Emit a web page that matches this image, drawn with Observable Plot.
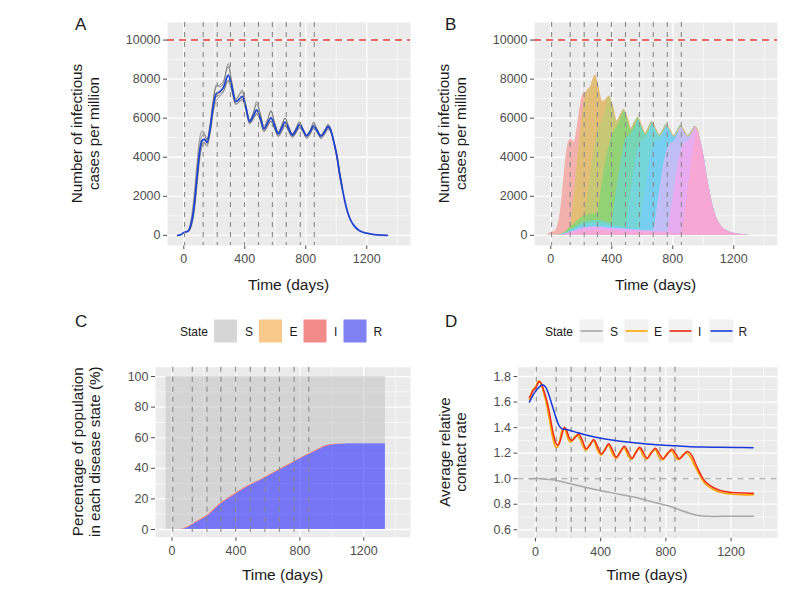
<!DOCTYPE html>
<html><head><meta charset="utf-8">
<script src="https://cdn.jsdelivr.net/npm/d3@7"></script>
<script src="https://cdn.jsdelivr.net/npm/@observablehq/plot@0.6"></script>
<style>
body{margin:0;background:#fff;}
#fig{position:relative;width:804px;height:594px;overflow:hidden;font-family:"Liberation Sans",Arial,Helvetica,sans-serif;}
</style></head><body><div id="fig"></div>
<script>
// ---------- shared ----------
const days = [5, 127, 219, 306, 398, 490, 581, 672, 764, 856];
const xMajor = [0, 400, 800, 1200];
const xMinor = [200, 600, 1000, 1400];

// ---------- A & B: infectious cases per million (mean of simulations) ----------
const tTotal = [-40,-20,0,15,30,45,60,75,90,105,120,135,152,172,192,212,236,260,292,314,340,362,384,404,432,456,478,502,526,550,572,596,620,642,664,688,712,736,758,782,806,829,851,875,899,923,946,966,985,1005,1020,1038,1055,1071,1090,1115,1150,1200,1250,1300,1335];
const vTotal = [0,30,140,180,220,500,1050,2050,3300,4350,4850,4920,4760,5450,6550,7250,7350,7580,8200,7650,6850,6960,7120,6650,5820,6120,6420,6000,5450,5760,6020,5600,5200,5500,5800,5450,5130,5380,5670,5400,5090,5320,5600,5350,5080,5300,5560,5330,4750,4020,3250,2480,1800,1280,850,510,250,110,40,10,0];
const threshold = 10000;

// individual simulations (grey lines)
const tSim = [30,45,60,75,90,105,120,135,152,172,192,212,236,260,292,314,340,362,384,404,432,456,478,502,526,550,572,596,620,642,664,688,712,736,758,782,806,829,851,875,899,923,946,966,985,1005,1020,1038];
const sim1 = [220,700,1500,2700,4000,5000,5350,5250,4900,5700,6900,7600,7700,7900,8650,7900,7000,7150,7350,6800,5900,6300,6700,6200,5600,5950,6350,5800,5300,5650,6000,5550,5200,5500,5800,5450,5150,5400,5700,5400,5150,5400,5650,5350,4700,3900,3100,2350];
const sim2 = [200,350,800,1600,2800,3900,4550,4750,4650,5200,6200,6900,7100,7350,7950,7500,6750,6850,6950,6550,5750,5950,6200,5900,5350,5600,5850,5450,5100,5350,5650,5350,5050,5250,5550,5300,5000,5200,5500,5300,5000,5200,5450,5300,4800,4150,3400,2600];
const sim3 = [230,550,1150,2200,3500,4600,5100,5150,4900,5500,6800,7700,7600,7800,8800,7800,6900,7200,7450,6700,5900,6250,6850,6200,5500,5900,6400,5750,5250,5600,6000,5600,5200,5450,5800,5450,5100,5350,5800,5450,5100,5300,5700,5400,4800,4050,3300,2500];
const sim4 = [210,450,950,1900,3100,4200,4700,4700,4550,5300,6500,7100,7200,7400,7900,7400,6700,6800,6950,6500,5700,6000,6250,5850,5300,5600,5850,5450,5050,5300,5600,5300,5000,5250,5500,5300,4950,5200,5450,5250,4950,5150,5450,5250,4700,4000,3200,2450];

// B: cumulative boundaries (from the bottom) of the ten groups, [day, cases]
const groupColors = ["#F2B1AC","#E2BE76","#C7C876","#92D176","#76D5B4","#76D5D8","#76CEF1","#C0BEF5","#E9ABEF","#F6A7D4"];
const groupEnds = [null, 236, 384, 478, 572, 664, 758, 851, 946, 966];
const bound2 = [[40,0],[60,30],[80,100],[100,200],[127,400],[150,1800],[172,3500],[192,5100],[212,6500]];
const bound3 = [[40,0],[60,30],[80,100],[100,200],[127,400],[150,560],[175,740],[200,900],[219,970],[245,2200],[270,3600],[292,4800],[314,5500],[340,5900],[362,6500]];
const bound4 = [[40,0],[60,30],[80,100],[100,200],[127,400],[150,560],[175,740],[200,900],[225,990],[250,1060],[280,1100],[306,1100],[330,2300],[352,3400],[374,4300],[394,4900],[414,5300],[432,5500],[456,5900]];
const bound5 = [[40,0],[60,20],[80,70],[100,140],[127,280],[150,390],[175,510],[200,620],[250,730],[300,770],[350,720],[398,620],[420,1700],[445,3000],[468,4100],[490,4900],[514,5100],[536,5300],[556,5600]];
const bound6 = [[40,0],[60,17],[80,58],[100,115],[127,230],[150,320],[175,430],[200,520],[250,610],[300,640],[350,600],[400,520],[450,470],[490,430],[514,1600],[538,2900],[560,4000],[582,4700],[604,4900],[624,4950],[644,5300]];
const bound7 = [[40,0],[60,14],[80,46],[100,92],[127,185],[150,255],[175,340],[200,415],[250,490],[300,510],[350,480],[400,420],[450,380],[500,340],[540,315],[581,290],[604,1400],[628,2700],[650,3800],[672,4500],[694,4800],[716,4850],[738,5150]];
const bound8 = [[40,0],[60,12],[80,40],[100,80],[127,160],[150,225],[175,300],[200,365],[250,430],[300,450],[350,420],[400,380],[450,345],[500,310],[550,285],[600,260],[640,245],[672,230],[696,1300],[720,2600],[742,3700],[764,4400],[786,4700],[808,4800],[830,5100]];
const bound9 = [[40,0],[60,10],[80,35],[100,70],[127,140],[150,195],[175,260],[200,315],[250,370],[300,390],[350,365],[400,330],[450,300],[500,270],[550,245],[600,220],[650,205],[700,190],[764,170],[788,1200],[812,2500],[834,3600],[856,4300],[878,4700],[900,4800],[924,5050]];
const bound10 = [[40,0],[60,7],[80,22],[100,45],[127,90],[150,125],[175,165],[200,200],[250,240],[300,250],[350,235],[400,220],[450,200],[500,180],[550,165],[600,150],[650,135],[700,120],[750,110],[800,100],[856,90],[878,1000],[900,2300],[922,3600],[944,4700]];

// ---------- C: percentage of population by state ----------
const tPop = [-37,30,53,90,136,185,220,303,387,470,554,637,721,804,887,971,1000,1034,1070,1117,1200,1335];
const pctR = [0,0,0,0.9,3.5,6.3,8.5,16.3,22.2,27.6,32.0,36.8,41.4,46.2,50.5,54.5,55.1,55.6,55.8,56,56,56];
const pctI = [0,0.02,0.11,0.38,0.48,0.65,0.73,0.77,0.67,0.62,0.58,0.54,0.53,0.52,0.51,0.5,0.42,0.27,0.13,0.05,0.01,0];
const pctE = [0,0.01,0.03,0.12,0.14,0.2,0.22,0.22,0.19,0.18,0.17,0.16,0.16,0.15,0.15,0.13,0.1,0.06,0.03,0.01,0.002,0];

// ---------- D: average relative contact rate ----------
const tRateS = [-37,40,72,133,214,317,419,521,623,725,827,908,970,1000,1021,1060,1150,1337];
const rateS = [1.0,1.0,0.995,0.986,0.96,0.929,0.902,0.876,0.85,0.816,0.782,0.745,0.72,0.712,0.708,0.705,0.705,0.705];
const tRate = [-37,-25,-15,-5,5,15,22,31,40,51,62,72,82,92,102,112,122,133,143,153,165,178,191,204,214,225,245,265,288,310,333,357,380,404,427,449,472,496,520,545,568,592,615,639,662,684,708,735,758,782,808,837,860,882,905,929,945,960,975,990,1005,1021,1040,1072,1100,1133,1180,1235,1290,1337];
const rateI = [1.638,1.66,1.69,1.70,1.72,1.745,1.76,1.755,1.735,1.69,1.645,1.60,1.54,1.47,1.40,1.338,1.29,1.265,1.27,1.30,1.36,1.403,1.38,1.33,1.305,1.30,1.325,1.35,1.30,1.234,1.26,1.307,1.255,1.195,1.225,1.273,1.225,1.168,1.205,1.254,1.21,1.16,1.20,1.247,1.205,1.16,1.195,1.239,1.2,1.156,1.19,1.23,1.195,1.156,1.18,1.213,1.205,1.18,1.14,1.095,1.055,1.015,0.98,0.945,0.925,0.908,0.896,0.889,0.887,0.886];
const rateE = [1.62,1.67,1.70,1.71,1.73,1.76,1.765,1.75,1.72,1.67,1.62,1.56,1.49,1.42,1.35,1.29,1.25,1.245,1.27,1.32,1.385,1.39,1.35,1.30,1.285,1.295,1.335,1.33,1.265,1.222,1.27,1.295,1.225,1.185,1.235,1.26,1.195,1.16,1.215,1.24,1.18,1.152,1.21,1.235,1.175,1.152,1.205,1.225,1.17,1.148,1.2,1.215,1.165,1.15,1.19,1.2,1.18,1.15,1.105,1.07,1.035,0.998,0.962,0.93,0.91,0.893,0.882,0.876,0.873,0.875];
const tRateR = [-37,-10,10,30,41,61,80,100,122,143,163,190,214,260,317,419,521,623,725,827,929,1030,1133,1235,1335];
const rateR = [1.60,1.665,1.70,1.725,1.735,1.72,1.665,1.585,1.495,1.42,1.39,1.385,1.377,1.36,1.34,1.312,1.294,1.28,1.268,1.26,1.252,1.248,1.246,1.244,1.242];

// ---------- build ----------
const fig = document.getElementById("fig");
const FONT = '"Liberation Sans", Arial, Helvetica, sans-serif';

function panel(o) {
  const grid = [
    Plot.frame({fill: "#EBEBEB", stroke: "none"}),
    Plot.ruleX(xMinor, {stroke: "white", strokeWidth: 0.65}),
    Plot.ruleY(o.yMinor, {stroke: "white", strokeWidth: 0.65}),
    Plot.ruleX(xMajor, {stroke: "white", strokeWidth: 1.3}),
    Plot.ruleY(o.yTicks, {stroke: "white", strokeWidth: 1.3})
  ];
  const svg = Plot.plot({
    width: o.width, height: o.height,
    marginLeft: o.ml, marginRight: o.mr, marginTop: o.mt, marginBottom: o.mb,
    style: {fontSize: "12.5px", fontFamily: FONT, color: "#4D4D4D", background: "transparent", overflow: "visible"},
    x: {domain: o.xDomain, ticks: xMajor, tickSize: 4, tickPadding: 5, tickFormat: "d", label: null},
    y: {domain: o.yDomain, ticks: o.yTicks, tickSize: 4, tickPadding: 3, tickFormat: o.yFormat, label: null},
    color: o.color,
    marks: [...grid, ...o.marks]
  });
  svg.style.position = "absolute";
  svg.style.left = o.left + "px";
  svg.style.top = o.top + "px";
  fig.appendChild(svg);
}

const total = tTotal.map((t, i) => ({t, v: vTotal[i]}));
const sims = [sim1, sim2, sim3, sim4].flatMap((s, k) => tSim.map((t, i) => ({t, v: s[i], run: k})));
const vdash = () => Plot.ruleX(days, {stroke: "#8A8A8A", strokeWidth: 1.1, strokeDasharray: "5,5"});
const yTicksAB = [0, 2000, 4000, 6000, 8000, 10000];
const yMinorAB = [1000, 3000, 5000, 7000, 9000];

// Panel A
panel({
  left: 0, top: 0, width: 420, height: 297, ml: 167, mr: 10, mt: 22, mb: 52,
  xDomain: [-107, 1487], yDomain: [-520, 10900], yTicks: yTicksAB, yMinor: yMinorAB, yFormat: "d",
  marks: [
    Plot.line(sims, {x: "t", y: "v", z: "run", stroke: "#3a3a3a", strokeOpacity: 0.65, strokeWidth: 0.7, curve: "monotone-x"}),
    Plot.line(total, {x: "t", y: "v", stroke: "#2244CC", strokeWidth: 1.8, curve: "monotone-x"}),
    vdash(),
    Plot.ruleY([threshold], {stroke: "#E8392C", strokeWidth: 1.4, strokeDasharray: "7,5"})
  ]
});

// Panel B
const bounds = [null, bound2, bound3, bound4, bound5, bound6, bound7, bound8, bound9, bound10];
const groupRows = groupColors.map((c, k) => k === 0 ? total :
  bounds[k].map(([t, v]) => ({t, v})).concat(total.filter(d => d.t >= groupEnds[k])));
panel({
  left: 420, top: 0, width: 384, height: 297, ml: 114, mr: 27, mt: 22, mb: 52,
  xDomain: [-107, 1487], yDomain: [-520, 10900], yTicks: yTicksAB, yMinor: yMinorAB, yFormat: "d",
  marks: [
    ...groupRows.map((rows, k) => Plot.areaY(rows, {x: "t", y1: 0, y2: "v", fill: groupColors[k], curve: "monotone-x"})),
    Plot.line(total.filter(d => d.t >= 384 && d.t <= 966), {x: "t", y: "v", stroke: "#D4BE7A", strokeWidth: 1.1, curve: "monotone-x"}),
    vdash(),
    Plot.ruleY([threshold], {stroke: "#E8392C", strokeWidth: 1.4, strokeDasharray: "7,5"})
  ]
});

// Panel C
const popRows = [];
tPop.forEach((t, i) => {
  popRows.push({t, state: "R", v: pctR[i]});
  popRows.push({t, state: "I", v: pctI[i]});
  popRows.push({t, state: "E", v: pctE[i]});
  popRows.push({t, state: "S", v: 100 - pctR[i] - pctI[i] - pctE[i]});
});
panel({
  left: 0, top: 297, width: 420, height: 297, ml: 155, mr: 10, mt: 69.7, mb: 57.3,
  xDomain: [-103, 1492], yDomain: [-5.03, 106.1], yTicks: [0, 20, 40, 60, 80, 100], yMinor: [10, 30, 50, 70, 90], yFormat: "d",
  color: {domain: ["S", "E", "I", "R"], range: ["#BDBDBD", "#FFA500", "#FF0000", "#0000FF"]},
  marks: [
    Plot.areaY(popRows, {x: "t", y: "v", z: "state", fill: "state", order: ["R", "I", "E", "S"], fillOpacity: 0.5, curve: "monotone-x"}),
    vdash()
  ]
});

// Panel D
const rowsS = tRateS.map((t, i) => ({t, v: rateS[i]}));
const rowsE = tRate.map((t, i) => ({t, v: rateE[i]}));
const rowsI = tRate.map((t, i) => ({t, v: rateI[i]}));
const rowsR = tRateR.map((t, i) => ({t, v: rateR[i]}));
panel({
  left: 420, top: 297, width: 384, height: 297, ml: 97.5, mr: 27, mt: 69.7, mb: 56.7,
  xDomain: [-107, 1485], yDomain: [0.537, 1.873], yTicks: [0.6, 0.8, 1.0, 1.2, 1.4, 1.6, 1.8], yMinor: [0.7, 0.9, 1.1, 1.3, 1.5, 1.7], yFormat: ".1f",
  marks: [
    Plot.ruleY([1], {stroke: "#9A9A9A", strokeWidth: 1.1, strokeDasharray: "6,5"}),
    vdash(),
    Plot.line(rowsS, {x: "t", y: "v", stroke: "#A8A8A8", strokeWidth: 1.5, curve: "catmull-rom"}),
    Plot.line(rowsE, {x: "t", y: "v", stroke: "#FFA500", strokeWidth: 1.6, curve: "catmull-rom"}),
    Plot.line(rowsI, {x: "t", y: "v", stroke: "#EE2A12", strokeWidth: 1.5, curve: "catmull-rom"}),
    Plot.line(rowsR, {x: "t", y: "v", stroke: "#1A3AD8", strokeWidth: 1.5, curve: "catmull-rom"})
  ]
});

// ---------- text overlay: panel letters, axis titles, legends ----------
const ov = d3.select(fig).append("svg").attr("width", 804).attr("height", 594)
  .attr("style", "position:absolute;left:0;top:0;pointer-events:none;font-family:" + FONT.replace(/"/g, "'"));
function txt(x, y, s, size, anchor = "start", fill = "#1a1a1a", rot = 0) {
  ov.append("text").attr("transform", `translate(${x},${y}) rotate(${rot})`)
    .attr("text-anchor", anchor).attr("font-size", size).attr("font-weight", 400).attr("fill", fill).text(s);
}
const letters = [["A", 75, 30], ["B", 445, 30], ["C", 75, 327], ["D", 445, 327]];
letters.forEach(([s, x, y]) => txt(x, y, s, 17));
[[288.5, 289.5], [655.5, 289.5], [282.5, 579.5], [647, 579.5]].forEach(([x, y]) => txt(x, y, "Time (days)", 15.5, "middle"));
const yTitles = [
  [["Number of infectious", 82], ["cases per million", 98.5], 133.5],
  [["Number of infectious", 449], ["cases per million", 466], 133.5],
  [["Percentage of population", 83], ["in each disease state (%)", 100], 451.7],
  [["Average relative", 449.5], ["contact rate", 466], 452]
];
yTitles.forEach(([l1, l2, cy]) => { txt(l1[1], cy, l1[0], 15.2, "middle", "#1a1a1a", -90); txt(l2[1], cy, l2[0], 15.2, "middle", "#1a1a1a", -90); });

// legend C (filled keys)
const legStates = ["S", "E", "I", "R"];
const legFillC = ["#D6D6D6", "#F8C98A", "#F38B8B", "#8080F2"];
const legKeyXC = [214, 259, 303.5, 343.5];
const legLabXC = [245, 289.5, 334, 373.5];
txt(180, 335.5, "State", 12, "start", "#1a1a1a");
legStates.forEach((s, i) => {
  ov.append("rect").attr("x", legKeyXC[i]).attr("y", 319.5).attr("width", 23).attr("height", 23).attr("fill", legFillC[i]);
  txt(legLabXC[i], 335.5, s, 12, "start", "#1a1a1a");
});
// legend D (line keys)
const legLineD = ["#A8A8A8", "#FFA500", "#EE2A12", "#1A3AD8"];
const legKeyXD = [579.5, 624.5, 668.5, 709.5];
const legLabXD = [610, 654, 698, 738.5];
txt(545, 335.5, "State", 12, "start", "#1a1a1a");
legStates.forEach((s, i) => {
  ov.append("rect").attr("x", legKeyXD[i]).attr("y", 319.5).attr("width", 24).attr("height", 23).attr("fill", "#F2F2F2");
  ov.append("line").attr("x1", legKeyXD[i] + 1).attr("x2", legKeyXD[i] + 23).attr("y1", 331).attr("y2", 331)
    .attr("stroke", legLineD[i]).attr("stroke-width", 1.6);
  txt(legLabXD[i], 335.5, s, 12, "start", "#1a1a1a");
});
</script></body></html>
